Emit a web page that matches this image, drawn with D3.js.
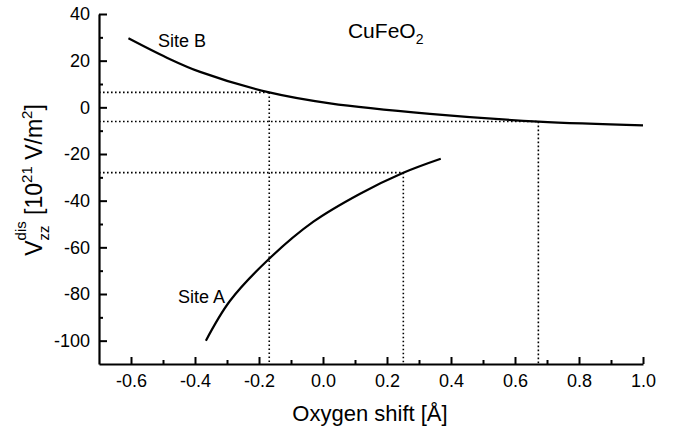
<!DOCTYPE html>
<html>
<head>
<meta charset="utf-8">
<title>CuFeO2 Vzz</title>
<script src="https://cdn.jsdelivr.net/npm/d3@7"></script>
<style>
  body { margin: 0; background: #fff; }
  text { font-family: "Liberation Sans", Arial, Helvetica, sans-serif; fill: #000; }
</style>
</head>
<body>
<svg width="680" height="434" id="mainsvg"></svg>
<script>
    // values
    let siteBx = [-0.608, -0.488, -0.384, -0.168, 0.022, 0.334, 0.673, 1.0];
    let siteBy = [29.6, 21.3, 15.2, 6.4, 1.7, -2.8, -6.1, -7.7];
    let siteAx = [-0.366, -0.291, -0.169, -0.03, 0.116, 0.251, 0.368];
    let siteAy = [-100, -83, -65, -49, -37, -28, -22];
    let guideX = [-0.168, 0.673, 0.251];
    let guideY = [6.4, -6.1, -28];
    let xTicks = [-0.6, -0.4, -0.2, 0.0, 0.2, 0.4, 0.6, 0.8, 1.0];
    let xMinor = [-0.5, -0.3, -0.1, 0.1, 0.3, 0.5, 0.7, 0.9];
    let yTicks = [40, 20, 0, -20, -40, -60, -80, -100];
    let yMinor = [30, 10, -10, -30, -50, -70, -90];

    let mainsvg = d3.select('#mainsvg');
    let x = d3.scaleLinear().domain([-0.7, 1.0]).range([99, 643]);
    let y = d3.scaleLinear().domain([-110, 40]).range([364, 14]);

    // plain hyphen instead of unicode minus
    let fmtX = d => d3.format('.1f')(d).replace('\u2212', '-');
    let fmtY = d => d3.format('d')(d).replace('\u2212', '-');

    // dotted guides
    let guides = mainsvg.append('g')
        .attr('stroke', '#000')
        .attr('stroke-width', 1.6)
        .attr('stroke-dasharray', '1.6,2.4')
        .attr('fill', 'none');
    guideX.forEach(function(gx, i){
        guides.append('line')
            .attr('x1', x(-0.7)).attr('x2', x(gx))
            .attr('y1', y(guideY[i])).attr('y2', y(guideY[i]));
        guides.append('line')
            .attr('x1', x(gx)).attr('x2', x(gx))
            .attr('y1', y(guideY[i])).attr('y2', y(-110));
    });

    // axes
    let xAxis = mainsvg.append('g')
        .attr('transform', 'translate(0,' + y(-110) + ')')
        .call(d3.axisBottom(x).tickValues(xTicks).tickSizeInner(-7).tickSizeOuter(0)
            .tickPadding(10).tickFormat(fmtX));
    mainsvg.append('g')
        .attr('transform', 'translate(0,' + y(-110) + ')')
        .call(d3.axisBottom(x).tickValues(xMinor).tickSize(-4).tickFormat(''))
        .select('.domain').remove();
    let yAxis = mainsvg.append('g')
        .attr('transform', 'translate(' + x(-0.7) + ',0)')
        .call(d3.axisLeft(y).tickValues(yTicks).tickSizeInner(-8).tickSizeOuter(0)
            .tickPadding(9).tickFormat(fmtY));
    mainsvg.append('g')
        .attr('transform', 'translate(' + x(-0.7) + ',0)')
        .call(d3.axisLeft(y).tickValues(yMinor).tickSize(-4).tickFormat(''))
        .select('.domain').remove();

    mainsvg.selectAll('.domain').attr('stroke-width', 2.2);
    mainsvg.selectAll('.tick line').attr('stroke-width', 2);
    mainsvg.selectAll('.tick text')
        .style('font-family', '"Liberation Sans", Arial, sans-serif')
        .style('font-size', '18px');
    xAxis.selectAll('.tick text').attr('dy', '0.71em');

    // curves
    let line = d3.line()
        .x(d => x(d[0]))
        .y(d => y(d[1]))
        .curve(d3.curveCatmullRom.alpha(0.5));
    mainsvg.append('path')
        .datum(d3.zip(siteBx, siteBy))
        .attr('d', line)
        .attr('fill', 'none')
        .attr('stroke', '#000')
        .attr('stroke-width', 2.2);
    mainsvg.append('path')
        .datum(d3.zip(siteAx, siteAy))
        .attr('d', line)
        .attr('fill', 'none')
        .attr('stroke', '#000')
        .attr('stroke-width', 2.2);

    // annotations
    mainsvg.append('text')
        .attr('x', x(-0.516)).attr('y', y(25.9))
        .style('font-size', '18px')
        .text('Site B');
    mainsvg.append('text')
        .attr('x', x(-0.453)).attr('y', y(-83.9))
        .style('font-size', '18px')
        .text('Site A');
    let title = mainsvg.append('text')
        .attr('x', x(0.078)).attr('y', y(29.7))
        .style('font-size', '21px');
    title.append('tspan').text('CuFeO');
    title.append('tspan').attr('dy', 6).style('font-size', '14px').text('2');

    // axis titles
    mainsvg.append('text')
        .attr('x', 370).attr('y', 421)
        .attr('text-anchor', 'middle')
        .style('font-size', '22px')
        .text('Oxygen shift [\u00C5]');

    let ylab = mainsvg.append('text')
        .attr('transform', 'translate(42,180) rotate(-90)')
        .attr('text-anchor', 'middle')
        .style('font-size', '23px');
    ylab.append('tspan').text('V');
    ylab.append('tspan').attr('dy', 7).style('font-size', '15px').text('zz');
    ylab.append('tspan').attr('dx', -15).attr('dy', -23).style('font-size', '15px').text('dis');
    ylab.append('tspan').attr('dy', 16).text(' [10');
    ylab.append('tspan').attr('dy', -10).style('font-size', '15px').text('21');
    ylab.append('tspan').attr('dy', 10).text(' V/m');
    ylab.append('tspan').attr('dy', -10).style('font-size', '15px').text('2');
    ylab.append('tspan').attr('dy', 10).text(']');
</script>
</body>
</html>
